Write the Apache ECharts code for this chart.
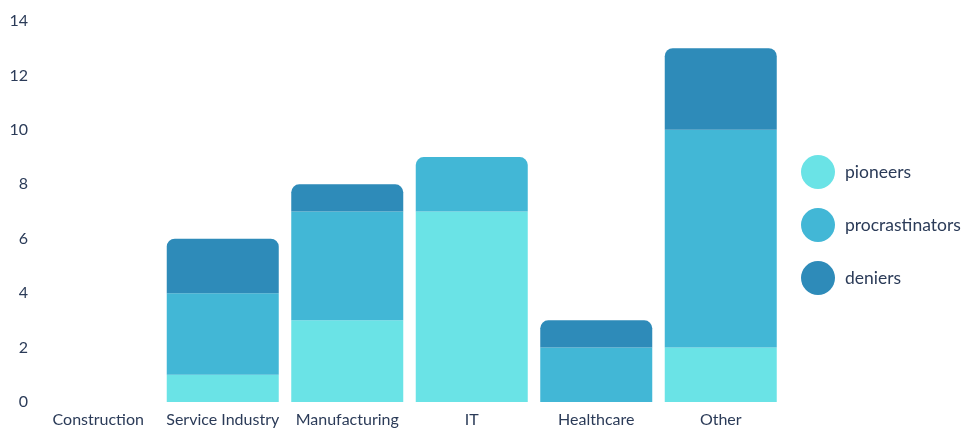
<!DOCTYPE html>
<html>
<head>
<meta charset="utf-8">
<script src="https://cdn.jsdelivr.net/npm/echarts@6/dist/echarts.min.js"></script>
<style>
  html, body { margin: 0; padding: 0; background: #fff; }
  #chart { width: 966px; height: 428px; }
</style>
</head>
<body>
<div id="chart"></div>
<script>
const categories = ['Construction', 'Service Industry', 'Manufacturing', 'IT', 'Healthcare', 'Other'];
const pioneers = [0, 1, 3, 7, 0, 2];
const procrastinators = [0, 3, 4, 2, 2, 8];
const deniers = [0, 2, 1, 0, 1, 3];
const yTicks = [0, 2, 4, 6, 8, 10, 12, 14];

const seriesDefs = [
  { name: 'pioneers', values: pioneers, color: '#6ae3e6' },
  { name: 'procrastinators', values: procrastinators, color: '#42b7d6' },
  { name: 'deniers', values: deniers, color: '#2e8bb9' }
];

// Round only the top segment of each stack
const topIndex = categories.map((_, ci) => {
  let top = -1;
  seriesDefs.forEach((s, si) => { if (s.values[ci] > 0) top = si; });
  return top;
});

const textColor = '#2b3b58';
const font = 'Lato';

const chart = echarts.init(document.getElementById('chart'), null, { renderer: 'canvas' });
chart.setOption({
  animation: false,
  textStyle: { fontFamily: font },
  grid: { left: 36, right: 183, top: 21, bottom: 26, containLabel: false },
  legend: {
    orient: 'vertical',
    left: 801,
    top: 155,
    padding: 0,
    icon: 'circle',
    itemWidth: 34,
    itemHeight: 34,
    itemGap: 19,
    textStyle: { color: textColor, fontSize: 17.5, fontFamily: font, padding: [0, 0, 0, 5] },
    data: seriesDefs.map(s => s.name)
  },
  xAxis: {
    type: 'category',
    data: categories,
    axisLine: { show: false },
    axisTick: { show: false },
    axisLabel: { color: textColor, fontSize: 16, fontFamily: font, margin: 10, interval: 0 }
  },
  yAxis: {
    type: 'value',
    min: yTicks[0],
    max: yTicks[yTicks.length - 1],
    interval: 2,
    splitLine: { show: false },
    axisLine: { show: false },
    axisTick: { show: false },
    axisLabel: { color: textColor, fontSize: 16, fontFamily: font, margin: 8 }
  },
  series: seriesDefs.map((s, si) => ({
    name: s.name,
    type: 'bar',
    stack: 'total',
    barWidth: 112,
    itemStyle: { color: s.color },
    data: s.values.map((v, ci) => ({
      value: v,
      itemStyle: { borderRadius: topIndex[ci] === si ? [8, 8, 0, 0] : 0 }
    }))
  }))
});
</script>
</body>
</html>
